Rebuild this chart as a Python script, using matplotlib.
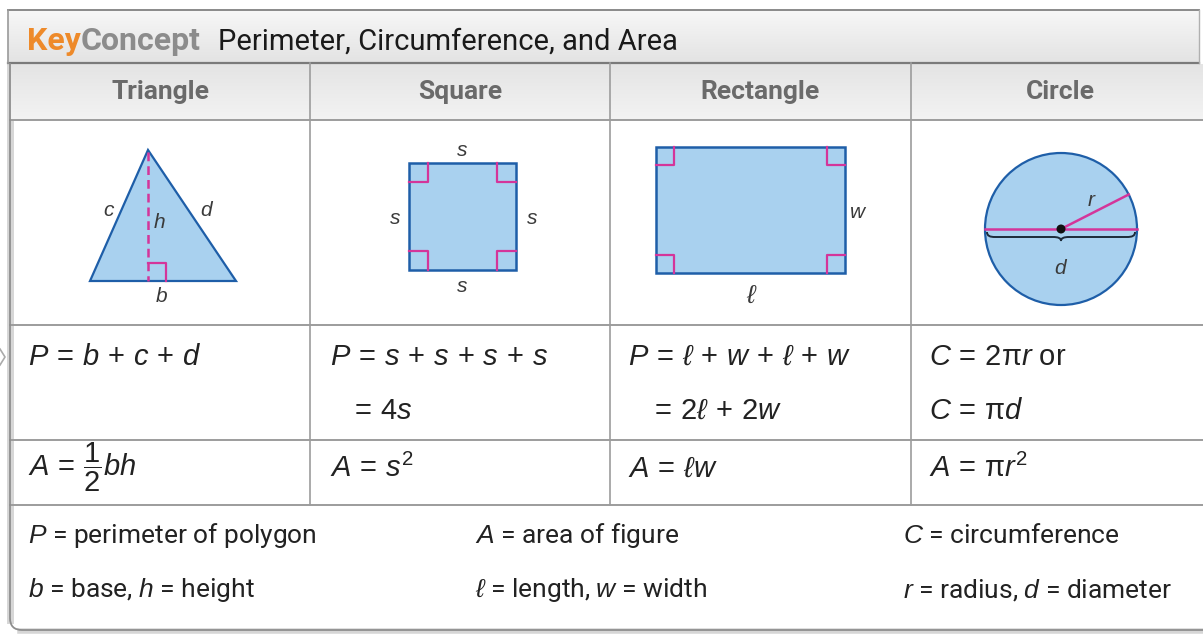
import matplotlib
matplotlib.use('Agg')
import matplotlib.pyplot as plt
from matplotlib import font_manager
from matplotlib.patches import Polygon, Rectangle, Circle, PathPatch
from matplotlib.path import Path
import numpy as np

names = {f.name for f in font_manager.fontManager.ttflist}
NARROW = 'Roboto' if 'Roboto' in names else 'Liberation Sans'
SANS = 'Liberation Sans'

plt.rcParams.update({
    'mathtext.fontset': 'custom',
    'mathtext.rm': SANS,
    'mathtext.it': SANS + ':italic',
    'mathtext.bf': SANS + ':bold',
    'mathtext.fallback': 'stixsans',
})

# ---------------- content ----------------
title_key = 'Key'
title_concept = 'Concept'
title_text = 'Perimeter, Circumference, and Area'
columns = ['Triangle', 'Square', 'Rectangle', 'Circle']
perimeter_line1 = [r'$P\,=\,b\,+\,c\,+\,d$', r'$P\,=\,s\,+\,s\,+\,s\,+\,s$',
                   r'$P\,=\,\ell\,+\,w\,+\,\ell\,+\,w$', r'$C\,=\,2\mathrm{\pi}r$ or']
perimeter_line2 = ['', r'$=\,4s$', r'$=\,2\ell\,+\,2w$', r'$C\,=\,\mathrm{\pi}d$']
area_formulas = [r'$A\,=\,\dfrac{1}{2}bh$', r'$A\,=\,s^2$', r'$A\,=\,\ell w$',
                 r'$A\,=\,\mathrm{\pi}r^2$']
legend_row1 = [r'$P$ = perimeter of polygon', r'$A$ = area of figure', r'$C$ = circumference']
legend_row2 = [r'$b$ = base, $h$ = height', r'$\ell$ = length, $w$ = width',
               r'$r$ = radius, $d$ = diameter']

# ---------------- layout (pixels) ----------------
W, H = 1203, 634
COL_X = [10, 310, 610, 911, 1203]
Y_HEAD_TOP, Y_HEAD_BOT = 10, 63
Y_COLHEAD_BOT = 120
Y_SHAPE_BOT = 325
Y_PERIM_BOT = 440
Y_AREA_BOT = 505
Y_BOTTOM = 630
LEGEND_X = [28, 475, 903]

FILL = '#a9d1ef'
EDGE = '#1e5ea8'
MAG = '#d4359a'
TXT = '#222222'
LINE = '#9c9c9c'

fig = plt.figure(figsize=(W / 100, H / 100), dpi=100)
ax = fig.add_axes([0, 0, 1, 1])


def vgrad(x0, x1, y0, y1, c_top, c_bot, z=0):
    n = 64
    t = np.linspace(0, 1, n)[:, None]
    a = np.array(matplotlib.colors.to_rgb(c_top))
    b = np.array(matplotlib.colors.to_rgb(c_bot))
    img = (a * (1 - t) + b * t)[:, None, :]
    ax.imshow(img, extent=[x0, x1, y1, y0], origin='upper', aspect='auto',
              interpolation='bilinear', zorder=z)


# outer box shadow + border
ax.plot([10, 10], [Y_HEAD_BOT, Y_BOTTOM - 10], color='#d6d6d6', lw=5, zorder=0.5)
ax.plot([20, W], [Y_BOTTOM + 1, Y_BOTTOM + 1], color='#d6d6d6', lw=4, zorder=0.5)
border = Path([(10, Y_HEAD_BOT), (10, Y_BOTTOM - 12), (10, Y_BOTTOM), (22, Y_BOTTOM), (W, Y_BOTTOM)],
              [Path.MOVETO, Path.LINETO, Path.CURVE3, Path.CURVE3, Path.LINETO])
ax.add_patch(PathPatch(border, fill=False, edgecolor='#8e8e8e', lw=1.3, zorder=3))

# header bar
vgrad(8, 1199, Y_HEAD_TOP, Y_HEAD_BOT, '#f7f7f7', '#e3e3e3', z=1)
ax.plot([8, 1199], [Y_HEAD_TOP, Y_HEAD_TOP], color='#8a8a8a', lw=1.4, zorder=2)
ax.plot([8, 1199], [Y_HEAD_BOT, Y_HEAD_BOT], color='#7a7a7a', lw=1.6, zorder=2)
ax.plot([8, 8], [Y_HEAD_TOP, Y_HEAD_BOT], color='#9a9a9a', lw=1.2, zorder=2)
ax.plot([1199, 1199], [Y_HEAD_TOP, Y_HEAD_BOT], color='#b0b0b0', lw=1.0, zorder=2)

# column header row
vgrad(10, W, Y_HEAD_BOT + 1, Y_COLHEAD_BOT, '#e4e4e4', '#f3f3f3', z=1)

# grid lines
for y in [Y_COLHEAD_BOT, Y_SHAPE_BOT, Y_PERIM_BOT, Y_AREA_BOT]:
    ax.plot([10, W], [y, y], color=LINE, lw=1.4, zorder=2)
for x in COL_X[1:-1]:
    ax.plot([x, x], [Y_HEAD_BOT, Y_AREA_BOT], color=LINE, lw=1.2, zorder=2)

# small chevron at left edge
ax.plot([0, 5, 0], [349, 357, 365], color='#aaaaaa', lw=1.2, zorder=2)

# title
t_key = ax.text(27, 50, title_key, color='#ee8a2a', fontsize=23, fontweight='bold',
                family=NARROW, va='baseline', ha='left', zorder=4)
ax.annotate(title_concept, xy=(1, 0), xycoords=t_key, color='#8c8c8c', fontsize=23,
            fontweight='bold', family=NARROW, va='bottom', ha='left', zorder=4)
ax.text(218, 50, title_text, color='#1a1a1a', fontsize=21, family=NARROW,
        va='baseline', ha='left', zorder=4)

# column headers
for i, name in enumerate(columns):
    cx = (COL_X[i] + COL_X[i + 1]) / 2 if i < 3 else 1060
    ax.text(cx, 92, name, color='#6a6a6a', fontsize=19, fontweight='bold', family=NARROW,
            ha='center', va='center', zorder=4)

lab = dict(fontsize=15, color='#3a3a3a', style='italic', family=SANS, ha='center', va='center', zorder=6)

# triangle
tri_apex, tri_bl, tri_br = (148, 150), (90, 281), (236, 281)
ax.add_patch(Polygon([tri_apex, tri_bl, tri_br], closed=True, facecolor=FILL, edgecolor=EDGE,
                     lw=1.6, joinstyle='miter', zorder=4))
ax.plot([tri_apex[0], tri_apex[0]], [tri_apex[1] + 2, tri_bl[1]], color=MAG, lw=1.8,
        ls=(0, (3.5, 2)), zorder=5)
ax.plot([148, 166, 166], [263, 263, 281], color=MAG, lw=1.6, zorder=5)
ax.text(109, 211, 'c', **lab)
ax.text(159, 222, 'h', **lab)
ax.text(206, 210, 'd', **lab)
ax.text(162, 297, 'b', **lab)


def right_angles(x0, y0, x1, y1, s):
    for cx, cy, dx, dy in [(x0, y0, 1, 1), (x1, y0, -1, 1), (x0, y1, 1, -1), (x1, y1, -1, -1)]:
        ax.plot([cx + dx * s, cx + dx * s, cx], [cy, cy + dy * s, cy + dy * s],
                color=MAG, lw=1.6, zorder=5)


# square
sq = (409, 163, 516, 270)
ax.add_patch(Rectangle((sq[0], sq[1]), sq[2] - sq[0], sq[3] - sq[1], facecolor=FILL,
                       edgecolor=EDGE, lw=1.8, zorder=4))
right_angles(*sq, 19)
ax.text(462, 150, 's', **lab)
ax.text(395, 219, 's', **lab)
ax.text(532, 219, 's', **lab)
ax.text(462, 287, 's', **lab)

# rectangle
rc = (656, 147, 845, 273)
ax.add_patch(Rectangle((rc[0], rc[1]), rc[2] - rc[0], rc[3] - rc[1], facecolor=FILL,
                       edgecolor=EDGE, lw=1.8, zorder=4))
right_angles(*rc, 18)
ax.text(858, 213, 'w', **lab)
ax.text(752, 296, r'$\ell$', fontsize=19, color='#3a3a3a', ha='center', va='center', zorder=6)

# circle
ccx, ccy, cr = 1061, 229, 76
ax.add_patch(Circle((ccx, ccy), cr, facecolor=FILL, edgecolor=EDGE, lw=1.6, zorder=4))
ax.plot([ccx - cr, ccx + cr], [ccy, ccy], color=MAG, lw=1.8, zorder=5)
ang = np.deg2rad(27)
ax.plot([ccx, ccx + cr * np.cos(ang)], [ccy, ccy - cr * np.sin(ang)], color=MAG, lw=1.8, zorder=5)
ax.add_patch(Circle((ccx, ccy), 4.5, facecolor='#111111', edgecolor='none', zorder=6))
bx0, bx1, by = ccx - cr + 2, ccx + cr - 2, ccy + 3
brace = Path([(bx0, by), (bx0, by + 4), (bx0 + 3, by + 5), (bx0 + 8, by + 5),
              (ccx - 8, by + 5),
              (ccx - 3, by + 5), (ccx, by + 6), (ccx, by + 9),
              (ccx, by + 6), (ccx + 3, by + 5), (ccx + 8, by + 5),
              (bx1 - 8, by + 5),
              (bx1 - 3, by + 5), (bx1, by + 4), (bx1, by)],
             [Path.MOVETO, Path.CURVE4, Path.CURVE4, Path.CURVE4, Path.LINETO,
              Path.CURVE4, Path.CURVE4, Path.CURVE4, Path.CURVE4, Path.CURVE4, Path.CURVE4,
              Path.LINETO, Path.CURVE4, Path.CURVE4, Path.CURVE4])
ax.add_patch(PathPatch(brace, fill=False, edgecolor='#1d2b3a', lw=1.4, zorder=6))
ax.text(1091, 200, 'r', **lab)
ax.text(1060, 268, 'd', **lab)

# formulas
FX = [28, 330, 628, 929]
FX2 = [28, 350, 650, 929]
fkw = dict(fontsize=21, color=TXT, family=SANS, va='center', ha='left', zorder=6)
akw = dict(fkw, va='baseline')
for i in range(4):
    ax.text(FX[i], 357, perimeter_line1[i], **fkw)
    if perimeter_line2[i]:
        ax.text(FX2[i], 411, perimeter_line2[i], **fkw)
    ax.text(FX[i], 477, area_formulas[i], **akw)

# legend
lkw = dict(fontsize=19, color=TXT, family=NARROW, va='center', ha='left', zorder=6)
for i in range(3):
    ax.text(LEGEND_X[i], 536, legend_row1[i], **lkw)
    ax.text(LEGEND_X[i], 590, legend_row2[i], **lkw)

ax.set_xlim(0, W)
ax.set_ylim(H, 0)
ax.axis('off')
fig.savefig('out.png', dpi=100, facecolor='white')
